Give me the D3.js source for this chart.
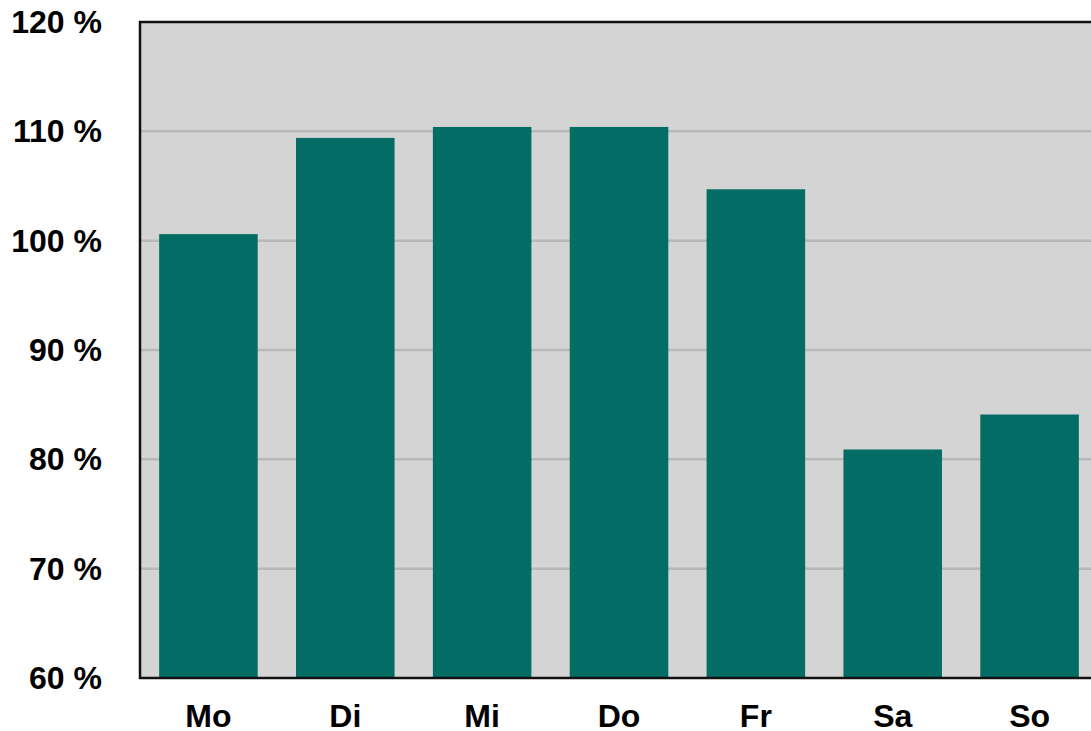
<!DOCTYPE html>
<html>
<head>
<meta charset="utf-8">
<script src="https://cdn.jsdelivr.net/npm/d3@7"></script>
<style>
  body { margin: 0; background: #fff; }
  text { font-family: "Liberation Sans", Arial, sans-serif; font-weight: bold; }
</style>
</head>
<body>
<script>
var w = 1091,
    h = 731;

var days = ["Mo", "Di", "Mi", "Do", "Fr", "Sa", "So"];
var values = [100.6, 109.4, 110.4, 110.4, 104.7, 80.9, 84.1];
var yTicks = [60, 70, 80, 90, 100, 110, 120];

// plot edges (don't use "top", it's window.top)
var pLeft = 140, pTop = 22, pRight = 1098, pBottom = 678;

var x = d3.scaleBand()
          .domain(days)
          .range([pLeft, pRight])
          .paddingInner(0.28)
          .paddingOuter(0.14);

var y = d3.scaleLinear()
          .domain([60, 120])
          .range([pBottom, pTop]);

var svg = d3.select("body").append("svg")
          .attr("width", w)
          .attr("height", h);

// plot background
svg.append("rect")
  .attr("x", pLeft).attr("y", pTop)
  .attr("width", pRight - pLeft).attr("height", pBottom - pTop)
  .attr("fill", "#d4d4d4");

// gridlines
svg.selectAll("line.grid")
  .data(yTicks.slice(1, -1))
  .enter()
  .append("line")
  .attr("class", "grid")
  .attr("x1", pLeft).attr("x2", pRight)
  .attr("y1", function(d) { return y(d); })
  .attr("y2", function(d) { return y(d); })
  .attr("stroke", "#b8b8b8")
  .attr("stroke-width", 2.5);

// bars
svg.selectAll("rect.bar")
  .data(values)
  .enter()
  .append("rect")
  .attr("class", "bar")
  .attr("x", function(d, i) { return x(days[i]); })
  .attr("width", x.bandwidth())
  .attr("y", function(d) { return y(d); })
  .attr("height", function(d) { return pBottom - y(d); })
  .attr("fill", "#026c65");

// frame: top, left, bottom
svg.append("path")
  .attr("d", "M" + pRight + "," + pTop + "H" + pLeft + "V" + pBottom + "H" + pRight)
  .attr("fill", "none")
  .attr("stroke", "#111")
  .attr("stroke-width", 2.5);

// y labels
svg.selectAll("text.ylab")
  .data(yTicks)
  .enter()
  .append("text")
  .attr("class", "ylab")
  .attr("x", 102)
  .attr("y", function(d) { return y(d) + 11; })
  .attr("text-anchor", "end")
  .attr("font-size", 32)
  .attr("fill", "#000")
  .text(function(d) { return d + " %"; });

// x labels
svg.selectAll("text.xlab")
  .data(days)
  .enter()
  .append("text")
  .attr("class", "xlab")
  .attr("x", function(d) { return x(d) + x.bandwidth() / 2; })
  .attr("y", 727)
  .attr("text-anchor", "middle")
  .attr("font-size", 32)
  .attr("fill", "#000")
  .text(function(d) { return d; });
</script>
</body>
</html>
